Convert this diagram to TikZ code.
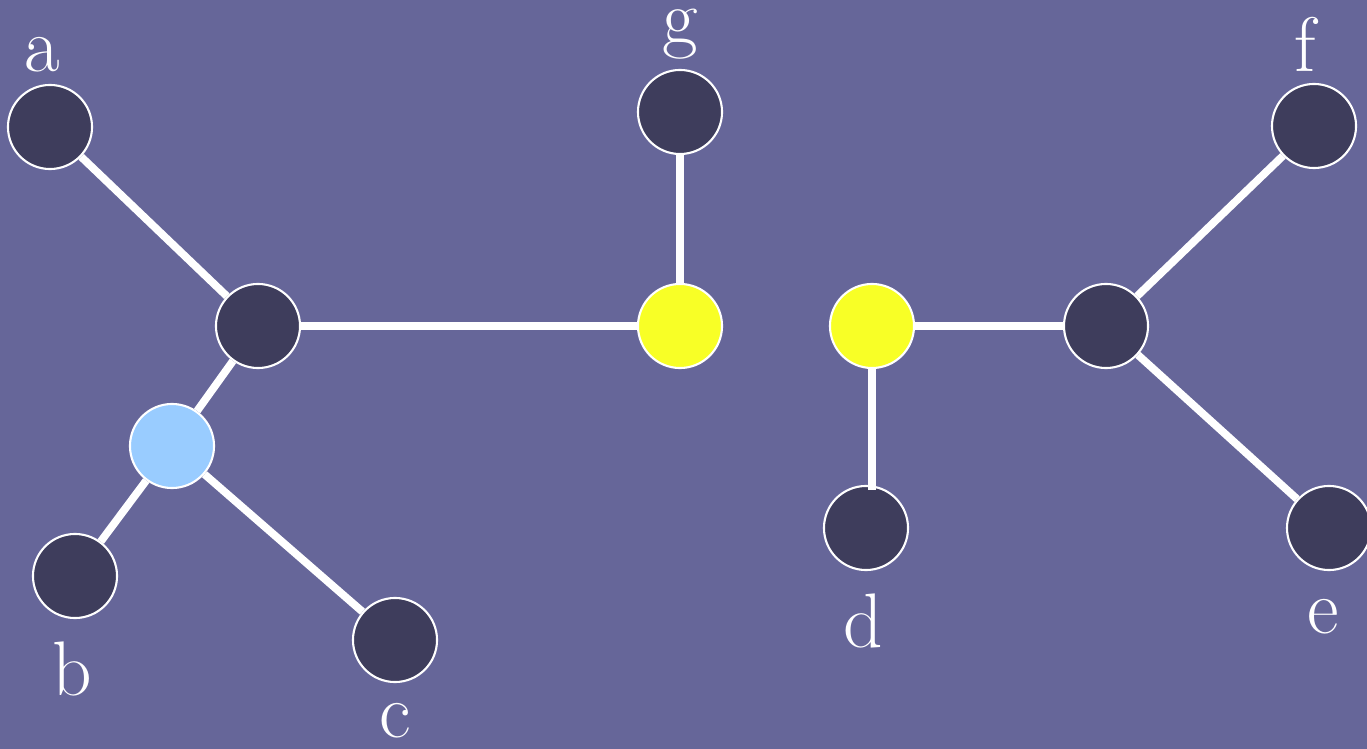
\documentclass[tikz,border=0pt]{standalone}
\definecolor{bg}{RGB}{102,102,153}
\definecolor{darkn}{RGB}{62,61,92}
\definecolor{yel}{RGB}{248,255,38}
\definecolor{lblue}{RGB}{153,204,255}
\begin{document}
\begin{tikzpicture}[x=0.01cm,y=-0.01cm,
  vert/.style={circle,draw=white,line width=0.6pt,minimum size=0.84cm,inner sep=0pt},
  dk/.style={vert,fill=darkn},
  yv/.style={vert,fill=yel},
  lb/.style={vert,fill=lblue},
  edge/.style={draw=white,line width=2.2pt},
  lbl/.style={text=white,anchor=base,font=\fontsize{22}{26}\selectfont,inner sep=0pt}]
\fill[bg] (0,0) rectangle (1367,749);
\useasboundingbox (0,0) rectangle (1367,749);
\coordinate (dtop) at (872,490);
\node[dk] (a) at (50,127) {};
\node[dk] (g) at (680,112) {};
\node[dk] (f) at (1314,126) {};
\node[dk] (m1) at (258,326) {};
\node[yv] (y1) at (680,326) {};
\node[yv] (y2) at (872,326) {};
\node[dk] (m2) at (1106,326) {};
\node[lb] (l) at (172,446) {};
\node[dk] (b) at (75,576) {};
\node[dk] (c) at (395,640) {};
\node[dk] (d) at (866,528) {};
\node[dk] (e) at (1329,528) {};
\draw[edge] (a) -- (m1);
\draw[edge] (m1) -- (y1);
\draw[edge] (g) -- (y1);
\draw[edge] (m1) -- (l);
\draw[edge] (l) -- (b);
\draw[edge] (l) -- (c);
\draw[edge] (y2) -- (m2);
\draw[edge] (y2) -- (dtop);
\draw[edge] (m2) -- (f);
\draw[edge] (m2) -- (e);
\node[lbl] (la) at (42,72) {a};
\node[lbl] (lg) at (680,44) {g};
\node[lbl] (lf) at (1305,72) {f};
\node[lbl] (lb2) at (72,695) {b};
\node[lbl] (lc) at (395,737) {c};
\node[lbl] (ld) at (863,647) {d};
\node[lbl] (le) at (1323,633) {e};
\end{tikzpicture}
\end{document}
